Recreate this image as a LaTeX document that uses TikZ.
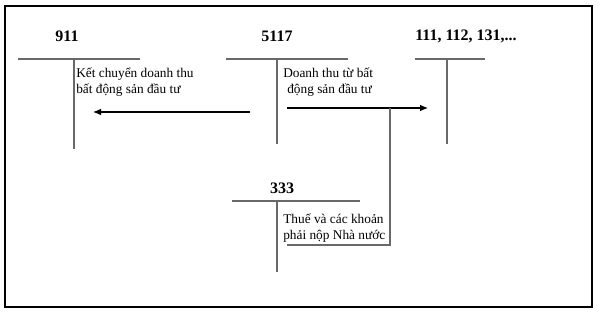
\documentclass[tikz,border=0pt]{standalone}
\usepackage{fontspec}
\setmainfont{Liberation Serif}
\usepackage{xcolor}
\definecolor{linegray}{RGB}{105,105,105}
\usetikzlibrary{arrows.meta,positioning}
\tikzset{
  acct/.style={font=\fontsize{12}{14}\selectfont\bfseries,inner sep=0pt},
  note/.style={font=\fontsize{10}{12}\selectfont,align=left,
               inner sep=0pt,anchor=north west},
  tline/.style={draw=linegray,line width=1.1pt},
  arrow/.style={-{Latex[length=6pt,width=5pt]},line width=0.8pt,black},
}

\begin{document}
\begin{tikzpicture}[x=0.75pt,y=-0.75pt]
  \useasboundingbox (0,0) rectangle (599,316);
  \draw[line width=0.8pt] (5,6) rectangle (592,307);

  % account titles
  \node[acct] (a911)  at (67,36)  {911};
  \node[acct] (a5117) at (277,36) {5117};
  \node[acct] (a111)  at (466,36) {111, 112, 131,...};
  \node[acct] (a333)  at (282,188) {333};

  % T-accounts
  \draw[tline] (18,59) -- (140,59);  \draw[tline] (74,59) -- (74,149);
  \draw[tline] (226,59) -- (348,59); \draw[tline] (277,59) -- (277,144);
  \draw[tline] (415,59) -- (485,59); \draw[tline] (447,59) -- (447,144);
  \draw[tline] (232,201) -- (360,201); \draw[tline] (277,201) -- (277,272);

  % entries
  \node[note] (n911) at (76,68) {Kết chuyển doanh thu\\bất động sản đầu tư};
  \node[note] (n5117) at (283,68) {Doanh thu từ bất\\\hspace{3pt}động sản đầu tư};
  \node[note] (n333) at (283,214) {Thuế và các khoản\\phải nộp Nhà nước};

  \coordinate (l0) at (250,112);
  \coordinate (l1) at (93,112);
  \coordinate (r0) at (287,108);
  \coordinate (r1) at (428,108);
  \coordinate (b0) at (390,108);
  \coordinate (b1) at (390,245);
  \coordinate (b2) at (287,245);

  \draw[arrow] (l0) -- (l1);
  \draw[arrow] (r0) -- (r1);
  \draw[tline] (b0) -- (b1) -- (b2);
\end{tikzpicture}
\end{document}
